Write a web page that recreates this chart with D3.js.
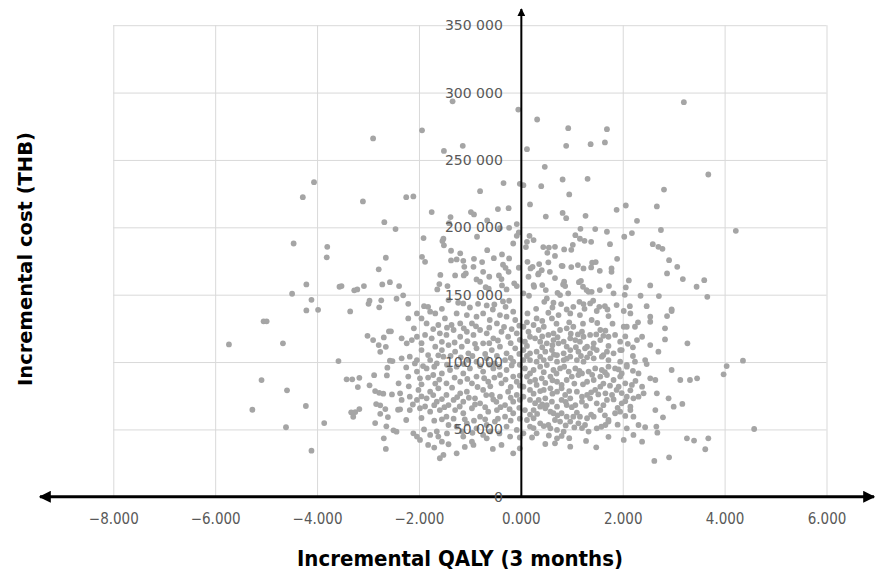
<!DOCTYPE html>
<html>
<head>
<meta charset="utf-8">
<script src="https://cdn.jsdelivr.net/npm/d3@7"></script>
<style>
  html, body { margin: 0; padding: 0; background: #ffffff; }
  svg { display: block; }
</style>
</head>
<body>
<svg id="chart" width="876" height="572"></svg>
<script>
// ---------------- DATA (incremental QALY, incremental cost in thousand THB) ----------------
const xTicks = [-8, -6, -4, -2, 0, 2, 4, 6];
const yTicks = [0, 50000, 100000, 150000, 200000, 250000, 300000, 350000];
const xTitle = "Incremental QALY (3 months)";
const yTitle = "Incremental cost (THB)";

const upperPoints = [
[-2.90,266],[-1.94,272],[-1.34,293.5],[-1.51,256.7],[-1.14,260.5],[-0.05,287.4],[0.32,280],[0.12,258],[0.93,273.6],[0.89,260.5],[1.37,261.7],[1.69,272.8],[1.65,263],[3.20,292.9],[0.47,244.9],[1.31,236],[0.82,235.5],[0.95,224.4],[0.40,230.5],[-0.02,232.3],[0.05,231.3],[-0.34,232.8],[-0.80,226.8],[0.18,217],[0.49,208],[-0.45,213.5],[-0.24,214.2],[0.82,210.7],[0.89,206.8],[1.27,208.5],[1.88,213],[2.06,216.2],[2.28,204.8],[2.67,215.5],[2.81,228],[2.75,198],[2.03,193],[2.18,195.7],[2.59,187.5],[2.70,185.5],[2.78,184],[1.75,187.5],[1.46,198.7],[1.17,198.9],[1.07,194.2],[1.16,191.5],[1.25,190],[1.38,189.2],[1.69,196.7],[1.02,187],[0.99,183.3],[0.85,183.6],[0.67,185.5],[0.55,185],[0.44,185.3],[0.17,193.7],[0.25,190.5],[0.10,185.3],[0.12,189.2],[-0.04,196.2],[-0.08,193.7],[-0.15,188],[-0.08,202.4],[-0.23,199.6],[-0.37,179.9],[-0.66,183],[-0.66,205.1],[-0.86,193],[-0.98,211.3],[-0.92,209.6],[-1.38,207.6],[-1.41,203.1],[-1.52,191.5],[-1.54,189.8],[-1.51,186.6],[-1.37,182.6],[-1.19,180.6],[-1.75,211.3],[-1.91,192],[-2.25,222.4],[-2.11,222.9],[-1.94,178.1],
[-4.06,233.5],[-4.28,222.4],[-3.10,219.2],[-2.68,203.8],[-2.46,198.7],[-4.46,188],[-3.80,185.5],[-3.81,177.7],[-2.65,177.4],
[3.68,239.2],[4.22,197.4]
];

const leftPoints = [
[-2.79,168.8],[-4.21,157.6],[-3.56,155.9],[-3.52,156.4],[-3.27,153.2],[-3.21,153.9],[-3.08,156.4],[-2.72,157.6],[-2.57,159.3],[-4.49,150.7],[-4.11,146.2],[-4.21,138.3],[-3.98,138.8],[-3.35,137.6],[-2.97,145.5],[-2.99,143.2],[-2.74,145.8],[-2.78,140.6],[-2.44,147],[-5.05,130.2],[-4.99,130.2],[-5.73,113.1],[-4.67,113.9],[-3.01,119.5],[-2.90,116.3],[-2.69,118.3],[-2.59,122.8],[-2.55,122.8],[-2.79,112.6],[-2.65,111.3],[-2.76,107.6],[-3.58,100.7],[-2.57,101],[-2.52,100.7],[-2.62,95.8],[-5.09,86.6],[-4.59,79],[-3.42,87.2],[-3.31,87.2],[-3.17,88.3],[-3.20,81.4],[-2.88,90.3],[-2.63,90.1],[-2.97,82.7],[-2.86,78.5],[-2.78,77.2],[-2.70,76.5],[-2.53,76],[-2.40,84.2],[-5.27,64.6],[-4.22,67.4],[-2.84,68.8],[-2.76,67.9],[-2.66,65.1],[-2.41,64.6],[-3.33,62.7],[-3.25,62.9],[-3.17,65.1],[-3.29,59.4],[-2.76,61.6],[-2.61,59.2],[-4.61,51.6],[-3.86,54.7],[-2.86,54.7],[-2.64,52.3],[-2.50,49.3],[-2.44,48.3],[-2.69,43.4],[-4.11,34.2],[-2.65,35.5]
];

const upperCoreLeft = [
[-0.41,199.4],[-1.88,174.4],[-1.37,175.4],[-1.13,175.1],[-0.92,176.6],[-0.76,174.2],[-0.53,177.1],[-0.23,176.9],[-0.35,172.2],[-0.30,169.9],[-0.24,167],[-0.04,170],[-2.39,156.4],[-2.31,149.5],[-2.21,143.2],[-1.58,164.7],[-1.29,164.3],[-1.60,157.9],[-1.44,156.4],[-1.12,164.3],[-1.08,165.8],[-1.26,176.2],[-1.11,170.7],[-0.93,170.7],[-0.74,167],[-0.62,163.3],[-0.43,164.3],[-0.38,161.6],[-0.87,161.3],[-0.80,159.6],[-0.69,155.6],[-0.63,154.4],[-0.37,156.9],[-0.28,153.9],[-0.13,158.4],[-0.08,156.4],[-1.64,153.9],[-1.42,146],[-1.23,144],[-1.13,143.5],[-0.84,143.2],[-0.67,142],[-0.52,142.8],[-0.35,145],[-0.23,145.5],[-1.82,141]
];

const upperCoreRight = [
[2.91,175.6],[3.07,170.7],[2.87,165.8],[3.18,161.6],[3.45,155.9],[3.60,160.8],[3.66,148.4],[1.89,176.6],[2.12,160.6],[2.06,155.4],[2.54,156.9],[2.71,149],[2.35,149.2],[2.04,149.9],[2.14,141.5],[2.47,141.5],[2.96,139.1],[1.88,142.3],[0.52,181.1],[0.67,178.8],[0.13,174.4],[0.23,170.7],[0.19,169.5],[0.36,172.7],[0.41,168.2],[0.35,165.8],[0.54,174],[0.57,167],[0.80,171.4],[0.82,171.2],[0.99,170.5],[1.12,172],[1.23,169.5],[1.38,170.2],[1.40,173.7],[1.47,174.2],[1.55,167.7],[1.78,169.5],[1.78,167],[0.15,163.3],[0.25,157.1],[0.26,155.9],[0.34,165],[0.42,157.1],[0.49,153.4],[0.67,162.3],[0.85,159.6],[0.83,157.6],[0.87,156.4],[1.14,159.3],[1.18,160.3],[1.22,155.9],[1.29,153.4],[1.33,152.1],[1.39,152.1],[1.55,153.4],[1.73,156.4],[0.93,151],[0.77,149.7],[0.72,151.4],[0.51,147.2],[0.46,144.7],[0.16,149.2],[0.05,151],[0.64,144],[0.79,143],[1.03,141],[1.15,144.7],[1.23,143],[1.36,143.5],[1.42,145.5],[1.54,141],[1.65,141.5],[1.82,151]
];

const lowerCoreLeft = [
[-2.21,132.4],[-2.04,136.1],[-1.95,132.4],[-1.78,137.4],[-1.68,136.1],[-1.85,128.7],[-1.62,127.5],[-1.49,132.4],[-1.36,127.5],[-1.26,136.1],[-1.06,134.9],[-1.19,128.7],[-0.96,128.7],[-0.87,133.7],[-0.74,136.1],[-0.61,131.2],[-0.47,128.7],[-0.28,133.7],[-0.11,131.2],[-0.41,134.9],[-0.15,137.4],
[-2.34,117.6],[-2.24,113.9],[-2.14,116.3],[-2.04,118.8],[-1.88,120.1],[-1.75,117.6],[-1.59,121.3],[-1.46,120.1],[-1.32,123.8],[-1.19,118.8],[-1.06,122.5],[-0.93,120.1],[-0.80,123.8],[-0.67,121.3],[-0.54,117.6],[-0.38,122.5],[-0.25,118.8],[-0.08,121.3],
[-2.34,102.8],[-2.18,104],[-2.04,101.5],[-2.08,99],[-1.95,108.9],[-1.82,105.2],[-1.68,111.4],[-1.55,108.9],[-1.42,112.6],[-1.29,107.7],[-1.16,111.4],[-1.03,106.5],[-0.87,110.2],[-0.74,113.9],[-0.57,108.9],[-0.41,111.4],[-0.28,106.5],[-0.11,110.2],[-1.78,101.5],[-1.65,99],[-1.52,104],[-1.03,101.5],[-0.87,100.3],[-0.67,102.8],[-0.51,99],[-0.31,101.5],[-0.15,100.3],
[-2.21,89.2],[-2.04,92.9],[-1.98,87.9],[-1.85,95.3],[-1.72,90.4],[-1.55,91.6],[-1.39,94.1],[-1.26,96.6],[-1.13,91.6],[-1.00,95.3],[-0.87,89.2],[-0.74,92.9],[-0.54,95.3],[-0.41,90.4],[-0.28,94.1],[-0.15,89.2],[-1.46,84.2],[-1.19,85.4],[-0.96,84.2],[-0.64,85.4],[-0.38,84.2],[-0.08,85.4],
[-2.37,76.8],[-2.18,74.3],[-2.01,79.3],[-1.78,78],[-1.62,80.5],[-1.46,75.6],[-1.32,71.9],[-1.19,76.8],[-1.06,78],[-0.90,73.1],[-0.74,79.3],[-0.57,75.6],[-0.41,74.3],[-0.25,78],[-0.08,75.6],[-2.34,71.9],[-2.04,71.9],[-1.85,73.1],[-1.65,70.6],[-1.42,68.1],[-1.13,70.6],[-0.80,69.4],[-0.54,72.3],[-0.31,68.1],[-0.15,70.6],
[-2.37,64.9],[-2.18,64.4],[-1.98,65.7],[-1.78,63.2],[-1.59,64.4],[-1.46,59.5],[-1.29,64.4],[-1.13,62],[-0.96,65.7],[-0.80,59.5],[-0.64,63.2],[-0.47,64.4],[-0.31,59.5],[-0.15,62],
[-2.11,47.1],[-2.04,44.7],[-1.78,45.9],[-1.62,44.7],[-1.42,53.3],[-1.26,52.1],[-1.06,54.5],[-0.87,50.8],[-0.67,53.3],[-0.51,55.8],[-0.28,52.1],[-0.08,49.6],
[-1.98,42.2],[-1.82,38.5],[-1.55,40.9],[-1.52,31.1],[-1.59,28.6],[-1.26,32.3],[-1.13,44.7],[-0.96,40.9],[-0.93,38.5],[-0.74,45.9],[-0.67,43.4],[-0.38,38.5],[-0.21,44.7],[-0.15,32.3]
];

const lowerCoreLeftExtra = [
[-1.9,141.5],[-1.55,139.5],[-1.0,140.5],[-0.55,139],[-0.3,141],
[-2.1,125],[-1.72,124.5],[-1.45,125.5],[-1.12,125],[-0.88,126.5],[-0.62,125.5],[-0.33,126],[-0.18,124.5],[-0.03,127],
[-1.95,114],[-1.55,115],[-1.3,114.5],[-1.05,115.5],[-0.9,113.5],[-0.62,114],[-0.45,116],[-0.2,114],[-0.02,116.5],
[-1.62,105],[-1.38,104.5],[-1.18,103.5],[-0.95,104.5],[-0.7,106],[-0.47,104.5],[-0.2,103],[-0.03,106],
[-2.25,96],[-1.92,97],[-1.7,96.5],[-1.45,98],[-1.12,98.5],[-0.8,97],[-0.62,98],[-0.42,96.5],[-0.18,97.5],[-0.02,98],
[-1.82,88.5],[-1.6,87],[-1.3,88.5],[-1.05,87.5],[-0.72,88],[-0.52,88.5],[-0.3,87],[-0.02,90],
[-2.2,82],[-1.95,83.5],[-1.68,84],[-1.35,81],[-0.85,81.5],[-0.6,82],[-0.2,81.5],[-0.02,82.5],
[-1.95,74.5],[-1.72,75.5],[-1.55,72.5],[-1.25,74],[-1.02,73.5],[-0.68,75.5],[-0.48,70.5],[-0.2,73.5],[-0.02,72],
[-2.12,68.5],[-1.88,67],[-1.7,68],[-1.5,66.5],[-1.2,67],[-0.9,68.5],[-0.7,66.5],[-0.4,66.5],[-0.22,65],[-0.03,66],
[-2.25,57],[-1.95,58.5],[-1.7,56.5],[-1.55,57.5],[-1.32,58],[-1.1,57.5],[-0.92,56.5],[-0.7,57.5],[-0.45,58],[-0.2,56.5],[-0.02,58],
[-1.9,50],[-1.65,48.5],[-1.45,47],[-1.15,48.5],[-0.95,47.5],[-0.6,48.5],[-0.42,47],[-0.02,44],
[-1.7,36.5],[-1.42,39],[-1.1,37],[-0.55,35.5],[-0.02,36]
];

const lowerCoreRight = [
[0.13,136.1],[0.31,132.4],[0.54,136.6],[0.61,132.4],[0.74,134.9],[0.97,136.1],[1.16,134.9],[1.39,131.2],[1.49,137.9],[1.72,134.1],[2.02,137.9],[2.15,136.1],[2.54,133.7],[2.54,129.9],[2.87,134.1],[2.96,137.9],[2.83,125],[2.24,126.2],[2.08,126.2],[2.02,126.2],
[0.05,126.2],[0.15,122.5],[0.25,127.5],[0.35,123.8],[0.45,126.2],[0.54,120.1],[0.64,121.3],[0.77,123.8],[0.90,125],[1.03,126.2],[1.20,122.5],[1.23,118.8],[1.36,120.1],[1.56,123.8],[1.66,123.3],[1.72,118.8],[1.85,120.1],[1.95,115.1],[1.56,116.3],[1.43,113.9],[1.30,111.4],[1.16,115.1],[1.07,116.3],[0.97,117.6],[0.84,115.1],[0.74,113.9],[0.64,116.3],[0.51,113.9],[0.38,115.1],[0.28,117.6],[0.18,118.8],[0.08,115.1],[2.28,116.3],[2.38,118.8],[2.54,112.6],[2.70,107.7],[2.83,116.8],[3.27,113.9],[2.20,110.9],
[0.05,108.9],[0.18,106.5],[0.31,107.7],[0.48,107.7],[0.61,108.9],[0.71,105.2],[0.84,106.5],[0.97,108.9],[1.13,107.7],[1.26,110.2],[1.36,106.5],[1.49,108.9],[1.62,105.2],[1.69,107.7],[1.82,106.5],[1.95,108.9],[1.43,102.8],[1.23,100.3],[1.10,101.5],[0.97,104],[0.84,101.5],[0.71,100.3],[0.58,102.8],[0.45,101.5],[0.31,100.3],[0.18,101.5],[0.05,101.5],[1.59,104],[1.95,100.3],[2.08,97.8],[2.24,100.3],[2.44,101.5],[2.47,98.5],[1.98,108.9],
[0.08,95.3],[0.25,94.1],[0.38,96.6],[0.51,97.8],[0.64,94.1],[0.77,95.3],[0.94,92.9],[1.07,95.3],[1.20,91.6],[1.33,92.9],[1.46,95.3],[1.59,94.1],[1.72,96.6],[1.85,95.3],[1.98,91.6],[2.08,96.6],[2.31,91.6],[2.54,87.9],[2.64,86.7],[2.96,94.1],[3.13,86.7],[3.32,86.7],[3.46,87.9],[0.12,89.2],[0.28,86.7],[0.41,87.9],[0.58,89.2],[0.71,85.4],[0.80,83],[0.90,86.7],[1.00,89.2],[1.13,90.4],[1.30,85.4],[1.43,86.7],[1.56,89.2],[1.69,90.4],[1.82,86.7],[1.95,89.2],[2.05,84.2],[2.18,83],[2.38,81.7],[2.41,76.8],
[0.05,81.7],[0.18,79.3],[0.31,83],[0.45,79.3],[0.58,80.5],[0.71,78],[0.80,80.5],[0.87,75.6],[0.97,73.1],[1.10,78],[1.20,74.3],[1.30,75.6],[1.46,79.3],[1.56,81.7],[1.66,76.8],[1.79,75.6],[1.88,79.3],[1.92,81.7],[2.08,74.3],[2.21,73.1],[2.31,74.3],[0.05,74.3],[0.18,71.9],[0.35,71.9],[0.48,73.1],[0.51,68.1],[0.61,70.6],[0.71,66.9],[0.80,71.9],[0.90,68.1],[1.07,68.1],[1.20,70.6],[1.36,73.1],[1.49,69.4],[1.69,71.9],[1.82,72.3],[1.98,69.4],[2.15,66.9],[2.67,76.8],[2.90,73.1],[3.00,66.9],[3.17,68.9],[2.64,64.4],
[0.08,64.4],[0.25,64.4],[0.38,66.9],[0.48,65.7],[0.58,63.2],[0.64,62],[0.80,62],[0.90,59.5],[1.03,59.5],[1.16,59.5],[1.30,58.3],[1.43,59.5],[1.56,64.4],[1.72,57],[1.85,62],[1.95,63.2],[2.15,64.4],[2.21,59.5],[0.12,57],[0.25,58.3],[0.38,54.5],[0.54,53.3],[0.67,57],[0.77,55.8],[0.97,55.8],[1.13,54.5],[1.26,53.3],[1.33,48.4],[1.49,50.8],[1.66,53.3],[1.72,55.8],[2.08,50.8],[2.31,53.3],[2.44,51.6],[2.66,52.1],[2.68,47.6],[2.79,59],
[0.05,47.1],[0.18,52.1],[0.31,47.1],[0.58,50.8],[0.71,49.6],[0.84,48.4],[0.80,45.2],[0.48,39.2],[0.67,39.7],[0.71,43.4],[0.97,37.2],[1.48,36.7],[2.02,42.2],[2.21,45.9],[2.38,40.9],[2.62,26.6],[2.91,29.3],[3.26,43.4],[3.40,41.7],[3.62,35.3],[3.68,43.4]
];

const lowerCoreRightExtra = [
[0.3,139.5],[0.62,140.5],[0.9,139],[1.25,139.5],[1.7,139],
[0.12,129.5],[0.42,130.5],[0.7,128.5],[0.95,129.5],[1.22,128.5],[1.5,129],[1.8,128.5],[2.3,129.5],
[0.42,119],[0.72,118.5],[0.98,121],[1.12,120.5],[1.48,120.5],[1.62,119.5],[2.05,119],
[0.12,112],[0.42,111],[0.62,112.5],[0.9,111.5],[1.08,111],[1.42,110.5],[1.72,112],[2.1,113.5],
[0.12,104.5],[0.38,104],[0.65,105.5],[0.9,102.5],[1.18,104.5],[1.3,103.5],[1.72,101.5],[2.2,104.5],
[0.18,91.5],[0.45,92.5],[0.7,91.5],[0.85,96.5],[1.15,93.5],[1.4,90.5],[1.65,92.5],[1.92,94.5],[2.2,93.5],
[0.18,85.5],[0.48,84.5],[0.62,86.5],[1.05,84],[1.22,83.5],[1.62,84],[1.75,82.5],[2.25,86],
[0.25,76.5],[0.38,78.5],[0.62,76.5],[0.95,78.5],[1.38,77.5],[1.52,76],[1.98,77],[2.15,79],
[0.28,69.5],[0.42,68.5],[0.88,70.5],[1.0,66.5],[1.28,67.5],[1.62,68],[1.9,66],[2.05,71],
[0.18,61],[0.32,61.5],[0.72,60.5],[1.1,62.5],[1.38,61],[1.65,60.5],[2.05,60],
[0.25,51],[0.45,52.5],[0.88,53],[1.05,51.5],[1.2,51],[1.58,52],[1.9,53.5],
[0.22,44],[0.55,45.5],[0.95,43.5],[1.28,41.5],[1.72,44.5]
];

const farRightPoints = [
[4.58,50.3],[4.36,101],[4.04,97],[3.98,90.9]
];

// ---------------- CHART ----------------
const allPoints = [].concat(upperPoints, leftPoints, upperCoreLeft, upperCoreRight,
                            lowerCoreLeft, lowerCoreLeftExtra, lowerCoreRight,
                            lowerCoreRightExtra, farRightPoints)
  .map(d => ({ qaly: d[0], cost: d[1] * 1000 }));

const svg = d3.select("#chart");
const x = d3.scaleLinear().domain([-8, 6]).range([113.3, 826.5]);
const y = d3.scaleLinear().domain([0, 350000]).range([496.8, 25.2]);

const spaceLocale = d3.formatLocale({ decimal: ".", thousands: "\u00a0", grouping: [3], currency: ["", ""] });
const yFmt = spaceLocale.format(",");
const xFmt = d3.format(".3f");

// grid
const grid = svg.append("g").attr("class", "grid");
grid.append("g")
  .attr("transform", `translate(0,${y(0)})`)
  .call(d3.axisBottom(x).tickValues(xTicks).tickSize(-(y(0) - y(350000))).tickFormat(""))
  .call(g => g.select(".domain").remove())
  .call(g => g.selectAll("line").attr("stroke", "#d9d9d9").attr("stroke-width", 1));
grid.append("g")
  .attr("transform", `translate(${x(-8)},0)`)
  .call(d3.axisLeft(y).tickValues(yTicks).tickSize(-(x(6) - x(-8))).tickFormat(""))
  .call(g => g.select(".domain").remove())
  .call(g => g.selectAll("line").attr("stroke", "#d9d9d9").attr("stroke-width", 1));

// points
svg.append("g")
  .selectAll("circle")
  .data(allPoints)
  .join("circle")
  .attr("cx", d => x(d.qaly))
  .attr("cy", d => y(d.cost))
  .attr("r", 2.9)
  .attr("fill", "#a5a5a5");

// arrow markers
const defs = svg.append("defs");
defs.append("marker")
  .attr("id", "arrowEnd")
  .attr("viewBox", "0 0 10 10")
  .attr("refX", 9).attr("refY", 5)
  .attr("markerWidth", 4).attr("markerHeight", 4)
  .attr("markerUnits", "strokeWidth")
  .attr("orient", "auto-start-reverse")
  .append("path").attr("d", "M0,0 L10,5 L0,10 z").attr("fill", "#000");

// horizontal axis (with arrows both ends)
svg.append("line")
  .attr("x1", 40).attr("x2", 874)
  .attr("y1", y(0)).attr("y2", y(0))
  .attr("stroke", "#000").attr("stroke-width", 3)
  .attr("marker-start", "url(#arrowEnd)")
  .attr("marker-end", "url(#arrowEnd)");

// vertical axis
svg.append("line")
  .attr("x1", x(0) + 0.5).attr("x2", x(0) + 0.5)
  .attr("y1", y(0)).attr("y2", 9)
  .attr("stroke", "#000").attr("stroke-width", 2)
  .attr("marker-end", "url(#arrowEnd)");

// y tick labels
svg.append("g")
  .attr("transform", `translate(${x(0)},0)`)
  .call(d3.axisLeft(y).tickValues(yTicks).tickSize(0).tickPadding(18).tickFormat(yFmt))
  .call(g => g.select(".domain").remove())
  .call(g => g.selectAll("text")
    .attr("fill", "#595959")
    .style("font-family", "'DejaVu Sans', Verdana, sans-serif")
    .style("font-size", "14px"));

// x tick labels
svg.append("g")
  .attr("transform", `translate(0,${y(0)})`)
  .call(d3.axisBottom(x).tickValues(xTicks).tickSize(0).tickPadding(17).tickFormat(xFmt))
  .call(g => g.select(".domain").remove())
  .call(g => g.selectAll("text")
    .attr("fill", "#595959")
    .style("font-family", "'DejaVu Sans Condensed', 'DejaVu Sans', sans-serif")
    .style("font-stretch", "condensed")
    .style("font-size", "15px"));

// axis titles
svg.append("text")
  .attr("x", 460).attr("y", 566)
  .attr("text-anchor", "middle")
  .style("font-family", "'DejaVu Sans Condensed', 'DejaVu Sans', sans-serif")
  .style("font-stretch", "condensed")
  .style("font-weight", "bold")
  .style("font-size", "22px")
  .attr("fill", "#000")
  .text(xTitle);

svg.append("text")
  .attr("transform", "translate(32,259) rotate(-90)")
  .attr("text-anchor", "middle")
  .style("font-family", "'DejaVu Sans', Verdana, sans-serif")
  .style("font-weight", "bold")
  .style("font-size", "19.5px")
  .attr("fill", "#000")
  .text(yTitle);
</script>
</body>
</html>
